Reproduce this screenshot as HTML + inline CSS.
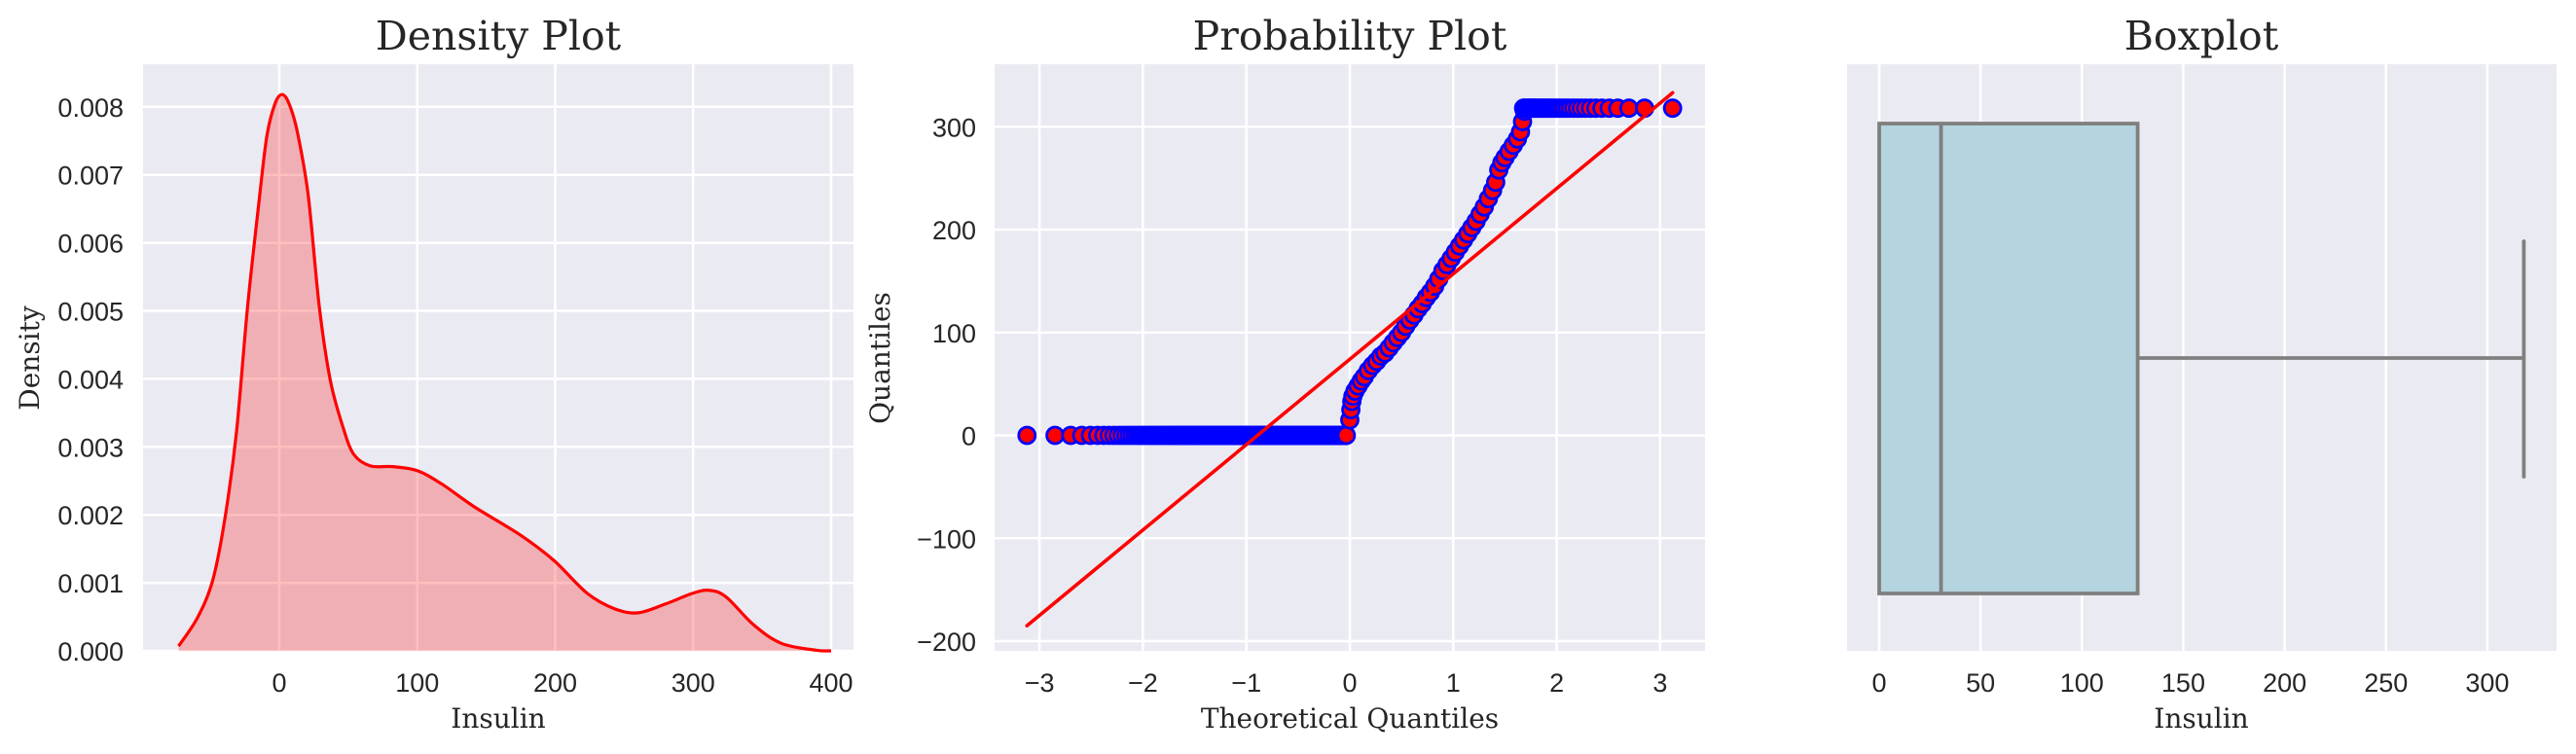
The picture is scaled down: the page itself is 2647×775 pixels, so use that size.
<!DOCTYPE html>
<html><head><meta charset="utf-8">
<style>
html,body{margin:0;padding:0;background:#fff;}
svg{display:block;}
.tick{font-family:"Liberation Sans",Arial,sans-serif;font-size:27px;fill:#262626;}
.lab{font-family:"DejaVu Serif","Liberation Serif",serif;font-size:28px;fill:#262626;}
.ttl{font-family:"DejaVu Serif","Liberation Serif",serif;font-size:41px;fill:#262626;}
</style></head>
<body>
<svg id="fig" width="2647" height="775" viewBox="0 0 2647 775" xmlns="http://www.w3.org/2000/svg"></svg>
<script>
// ---- Density plot data ----
const densX = [-73,-59,-48,-39,-31,-23,-15,-9,-3,2,7,13,21,29,37,46,54,66,82,100,118,142,175,199,223,243,260,280,300,312,324,344,364,389,400];
const densY = [0.00007,0.0005,0.00106,0.002,0.00323,0.00506,0.00655,0.00757,0.00805,0.00818,0.00805,0.00764,0.00669,0.00506,0.00398,0.0033,0.00289,0.00272,0.00271,0.00265,0.00245,0.00211,0.0017,0.00133,0.00085,0.00062,0.00056,0.00069,0.00085,0.00089,0.00079,0.00038,0.00011,0.00001,0];
const densXTicks = [0,100,200,300,400];
const densYTicks = [0,0.001,0.002,0.003,0.004,0.005,0.006,0.007,0.008];
const densYTickLabels = ["0.000","0.001","0.002","0.003","0.004","0.005","0.006","0.007","0.008"];
// ---- Probability plot data ----
const sampleSize = 768;
const zeroCount = 374;
const capCount = 36;
const capValue = 318;
const midQ = [0.00,0.01,0.02,0.03,0.05,0.08,0.11,0.14,0.18,0.22,0.26,0.30,0.34,0.38,0.42,0.46,0.50,0.54,0.58,0.62,0.66,0.70,0.74,0.78,0.82,0.86,0.90,0.94,0.98,1.02,1.06,1.10,1.14,1.18,1.22,1.26,1.30,1.34,1.38,1.41,1.44,1.47,1.50,1.54,1.58,1.62,1.65,1.67,1.69];
const midV = [15,25,33,38,43,48,53,57,63,68,72,77,80,85,90,95,100,106,112,117,123,128,134,139,145,152,160,166,172,178,184,190,196,202,208,215,222,230,238,246,258,265,270,276,282,288,295,305,315];
const fitSlope = 83;
const fitIntercept = 74;
const probXTicks = [-3,-2,-1,0,1,2,3];
const probXTickLabels = ["\u22123","\u22122","\u22121","0","1","2","3"];
const probYTicks = [-200,-100,0,100,200,300];
const probYTickLabels = ["\u2212200","\u2212100","0","100","200","300"];
// ---- Boxplot data ----
const boxStats = [0, 30.5, 127.5, 318]; // q1, median, q3, whisker max
const boxWhiskerMin = 0;
const boxXTicks = [0,50,100,150,200,250,300];

const NS = "http://www.w3.org/2000/svg";
const svg = document.getElementById("fig");
function el(tag, attrs, parent, text){
  const e = document.createElementNS(NS, tag);
  for (const k in attrs) e.setAttribute(k, attrs[k]);
  if (text !== undefined) e.textContent = text;
  (parent || svg).appendChild(e);
  return e;
}
function panel(name, L, R, T, B){
  const g = el("g", {}, svg);
  
  
  const bg = el("rect", {x:L, y:T, width:R-L, height:B-T, fill:"#eaeaf2"}, g);
  
  
  return g;
}
function gridV(g, x, T, B){ const l = el("line",{x1:x,x2:x,y1:T,y2:B,stroke:"#fff","stroke-width":2.5},g);   }
function gridH(g, y, L, R){ const l = el("line",{x1:L,x2:R,y1:y,y2:y,stroke:"#fff","stroke-width":2.5},g);   }
function xTick(g, x, txt){ const t = el("text",{x:x,y:711,"text-anchor":"middle",class:"tick"},g,txt);   }
function yTick(g, xr, y, txt){ const t = el("text",{x:xr,y:y+10,"text-anchor":"end",class:"tick"},g,txt);   }
function title(g, x, txt){ const t = el("text",{x:x,y:51,"text-anchor":"middle",class:"ttl"},g,txt);   }
function xLabel(g, x, txt){ const t = el("text",{x:x,y:748,"text-anchor":"middle",class:"lab"},g,txt);   }
function yLabel(g, x, y, txt){ const t = el("text",{x:x,y:y,"text-anchor":"middle",class:"lab",transform:`rotate(-90 ${x} ${y})`},g,txt);   }
function smoothPath(pts){
  let d = "M"+pts[0][0].toFixed(1)+","+pts[0][1].toFixed(1);
  for(let i=0;i<pts.length-1;i++){
    const p0=pts[Math.max(0,i-1)], p1=pts[i], p2=pts[i+1], p3=pts[Math.min(pts.length-1,i+2)];
    const c1x=p1[0]+(p2[0]-p0[0])/6, c1y=p1[1]+(p2[1]-p0[1])/6;
    const c2x=p2[0]-(p3[0]-p1[0])/6, c2y=p2[1]-(p3[1]-p1[1])/6;
    d += " C"+c1x.toFixed(1)+","+c1y.toFixed(1)+" "+c2x.toFixed(1)+","+c2y.toFixed(1)+" "+p2[0].toFixed(1)+","+p2[1].toFixed(1);
  }
  return d;
}

// ===== Density =====
(function(){
  const L=147,R=877,T=66,B=669;
  const sx = v => 287 + v*1.4175;
  const sy = v => 669 - v*69900;
  const g = panel("density-plot", L,R,T,B);
  densXTicks.forEach(v=>{ gridV(g, sx(v), T, B); xTick(g, sx(v), String(v)); });
  densYTicks.forEach((v,i)=>{ gridH(g, sy(v), L, R); yTick(g, 127, sy(v), densYTickLabels[i]); });
  const pts = densX.map((x,i)=>[sx(x), sy(densY[i])]);
  const ld = smoothPath(pts);
  const area = el("path",{d:ld+" L"+pts[pts.length-1][0]+","+sy(0)+" L"+pts[0][0]+","+sy(0)+" Z",fill:"rgba(255,0,0,0.25)",stroke:"none"},g);
  
  
  const line = el("path",{d:ld,fill:"none",stroke:"#ff0000","stroke-width":3.2,"stroke-linejoin":"round"},g);
  
  
  title(g, 512, "Density Plot");
  xLabel(g, 512, "Insulin");
  yLabel(g, 40, 368, "Density");
})();

// ===== Probability =====
function ppf(p){
  const a=[-39.6968302866538,220.946098424521,-275.928510446969,138.357751867269,-30.6647980661472,2.50662827745924];
  const b=[-54.4760987982241,161.585836858041,-155.698979859887,66.8013118877197,-13.2806815528857];
  const c=[-0.00778489400243029,-0.322396458041136,-2.40075827716184,-2.54973253934373,4.37466414146497,2.93816398269878];
  const dd=[0.00778469570904146,0.32246712907004,2.445134137143,3.75440866190742];
  const pl=0.02425;
  if(p<pl){const q=Math.sqrt(-2*Math.log(p));return (((((c[0]*q+c[1])*q+c[2])*q+c[3])*q+c[4])*q+c[5])/((((dd[0]*q+dd[1])*q+dd[2])*q+dd[3])*q+1);}
  if(p>1-pl){const q=Math.sqrt(-2*Math.log(1-p));return -(((((c[0]*q+c[1])*q+c[2])*q+c[3])*q+c[4])*q+c[5])/((((dd[0]*q+dd[1])*q+dd[2])*q+dd[3])*q+1);}
  const q=p-0.5,r=q*q;
  return (((((a[0]*r+a[1])*r+a[2])*r+a[3])*r+a[4])*r+a[5])*q/(((((b[0]*r+b[1])*r+b[2])*r+b[3])*r+b[4])*r+1);
}
function filliben(i,n){
  if(i===1) return 1-Math.pow(0.5,1/n);
  if(i===n) return Math.pow(0.5,1/n);
  return (i-0.3175)/(n+0.365);
}
(function(){
  const L=1022,R=1752,T=66,B=669;
  const sx = v => 1387 + v*106.3;
  const sy = v => 447.5 - v*1.0575;
  const g = panel("probability-plot", L,R,T,B);
  probXTicks.forEach((v,i)=>{ gridV(g, sx(v), T, B); xTick(g, sx(v), probXTickLabels[i]); });
  probYTicks.forEach((v,i)=>{ gridH(g, sy(v), L, R); yTick(g, 1003, sy(v), probYTickLabels[i]); });
  const pts = [];
  for(let i=1;i<=zeroCount;i++) pts.push([ppf(filliben(i,sampleSize)),0]);
  midQ.forEach((q,i)=>pts.push([q,midV[i]]));
  for(let i=sampleSize-capCount+1;i<=sampleSize;i++) pts.push([ppf(filliben(i,sampleSize)),capValue]);
  const pg = el("g",{},g);
  
  
  pts.forEach(p=>{
    const c = el("circle",{cx:sx(p[0]).toFixed(1),cy:sy(p[1]).toFixed(1),r:8.5,fill:"#ff0000",stroke:"#0000ff","stroke-width":2.8},pg);
    
    
  });
  const x0 = pts[0][0], x1 = pts[pts.length-1][0];
  const fl = el("line",{x1:sx(x0),y1:sy(fitIntercept+fitSlope*x0),x2:sx(x1),y2:sy(fitIntercept+fitSlope*x1),stroke:"#ff0000","stroke-width":3.6,"stroke-linecap":"round"},g);
  
  
  title(g, 1387, "Probability Plot");
  xLabel(g, 1387, "Theoretical Quantiles");
  yLabel(g, 914, 368, "Quantiles");
})();

// ===== Boxplot =====
(function(){
  const L=1898,R=2627,T=66,B=669;
  const sx = v => 1931 + v*2.083;
  const g = panel("boxplot", L,R,T,B);
  boxXTicks.forEach(v=>{ gridV(g, sx(v), T, B); xTick(g, sx(v), String(v)); });
  const [q1,med,q3,wmax] = boxStats;
  const yT=127, yB=610, yM=368;
  const box = el("rect",{x:sx(q1),y:yT,width:sx(q3)-sx(q1),height:yB-yT,fill:"#b4d4df",stroke:"#7f7f7f","stroke-width":3.8},g);
  
  
  const m = el("line",{x1:sx(med),x2:sx(med),y1:yT,y2:yB,stroke:"#7f7f7f","stroke-width":3.8},g);
  
  
  const w = el("line",{x1:sx(q3),x2:sx(wmax),y1:yM,y2:yM,stroke:"#7f7f7f","stroke-width":3.8},g);
  
  
  const cap = el("line",{x1:sx(wmax),x2:sx(wmax),y1:248,y2:490,stroke:"#7f7f7f","stroke-width":3.8,"stroke-linecap":"round"},g);
  
  
  const lw = el("line",{x1:sx(boxWhiskerMin),x2:sx(q1),y1:yM,y2:yM,stroke:"#7f7f7f","stroke-width":3.8},g);
  
  
  title(g, 2262, "Boxplot");
  xLabel(g, 2262, "Insulin");
})();
</script>
</body></html>
